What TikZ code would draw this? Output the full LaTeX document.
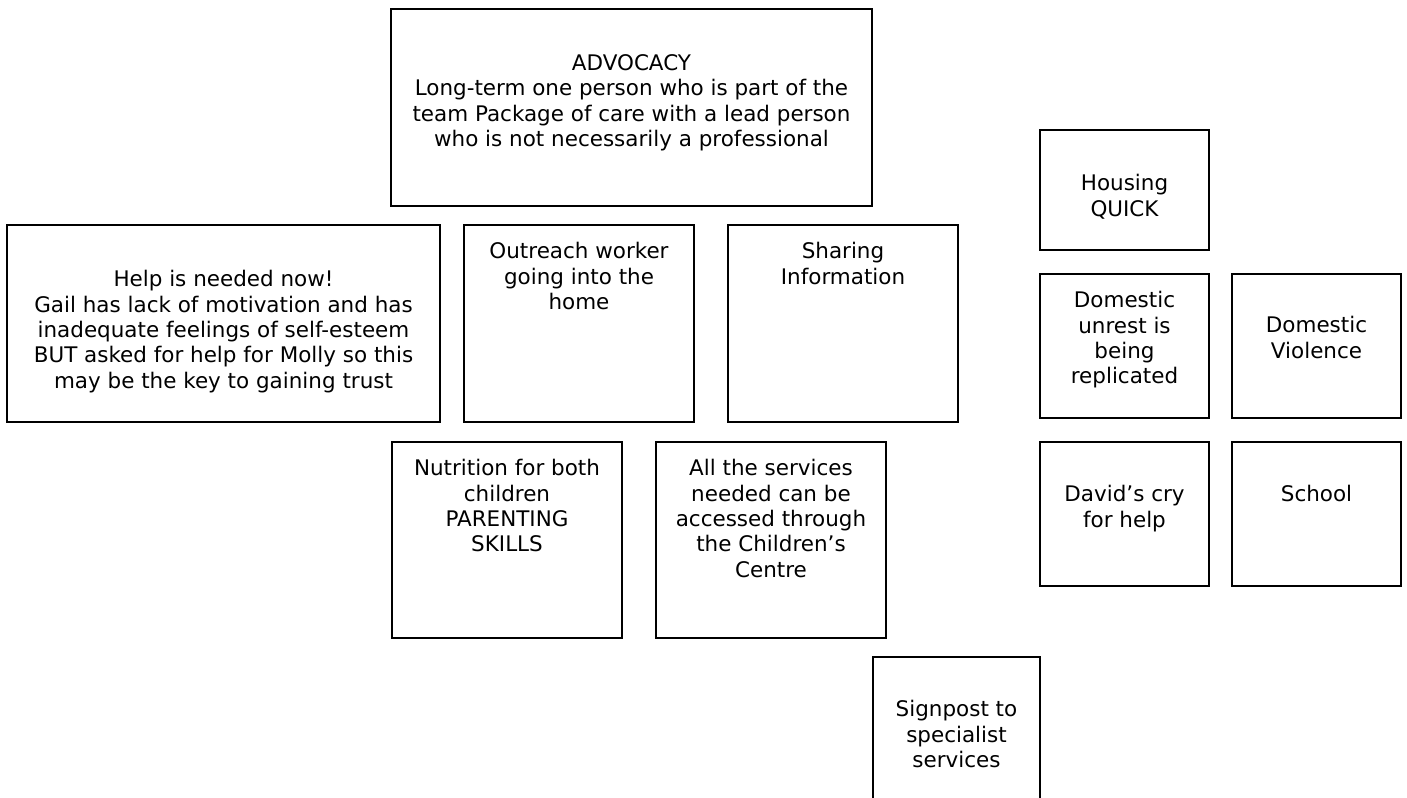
\documentclass[tikz,border=0pt]{standalone}
\usepackage{fontspec}
\setmainfont{DejaVu Sans}
\usetikzlibrary{fit,calc}
\tikzset{
  box/.style={draw=black, line width=1.3pt, inner sep=0pt},
  txt/.style={align=center, inner sep=0pt, font=\fontsize{16.1}{19}\selectfont, text=black}
}
\begin{document}
\begin{tikzpicture}[x=0.75pt,y=-0.75pt]
\useasboundingbox (0,0) rectangle (1407,797);
\clip (0,0) rectangle (1407,797);
\fill[white] (0,0) rectangle (1407,797);
% boxes
\node[box, fit={(391,9) (872,206)}] (adv) {};
\node[box, fit={(7,225) (440,422)}] (help) {};
\node[box, fit={(464,225) (694,422)}] (outr) {};
\node[box, fit={(728,225) (958,422)}] (share) {};
\node[box, fit={(392,442) (622,638)}] (nutr) {};
\node[box, fit={(656,442) (886,638)}] (allsv) {};
\node[box, fit={(873,657) (1040,840)}] (sign) {};
\node[box, fit={(1040,130) (1209,250)}] (house) {};
\node[box, fit={(1040,274) (1209,418)}] (unrest) {};
\node[box, fit={(1232,274) (1401,418)}] (dv) {};
\node[box, fit={(1040,442) (1209,586)}] (david) {};
\node[box, fit={(1232,442) (1401,586)}] (school) {};
% texts
\node[txt, anchor=north] (advt) at ($(adv.north)+(0,46)$) {ADVOCACY\\Long-term one person who is part of the\\team Package of care with a lead person\\who is not necessarily a professional};
\node[txt, anchor=north] (helpt) at ($(help.north)+(0,46)$) {Help is needed now!\\Gail has lack of motivation and has\\inadequate feelings of self-esteem\\BUT asked for help for Molly so this\\may be the key to gaining trust};
\node[txt, anchor=north] (outrt) at ($(outr.north)+(0,18)$) {Outreach worker\\going into the\\home};
\node[txt, anchor=north] (sharet) at ($(share.north)+(0,18)$) {Sharing\\Information};
\node[txt, anchor=north] (nutrt) at ($(nutr.north)+(0,18)$) {Nutrition for both\\children\\PARENTING\\SKILLS};
\node[txt, anchor=north] (allsvt) at ($(allsv.north)+(0,18)$) {All the services\\needed can be\\accessed through\\the Children’s\\Centre};
\node[txt, anchor=north] (signt) at ($(sign.north)+(0,44)$) {Signpost to\\specialist\\services};
\node[txt, anchor=north] (houset) at ($(house.north)+(0,45)$) {Housing\\QUICK};
\node[txt, anchor=north] (unrestt) at ($(unrest.north)+(0,18)$) {Domestic\\unrest is\\being\\replicated};
\node[txt, anchor=north] (dvt) at ($(dv.north)+(0,43)$) {Domestic\\Violence};
\node[txt, anchor=north] (davidt) at ($(david.north)+(0,44)$) {David’s cry\\for help};
\node[txt, anchor=north] (schoolt) at ($(school.north)+(0,44)$) {School};
\end{tikzpicture}
\end{document}
